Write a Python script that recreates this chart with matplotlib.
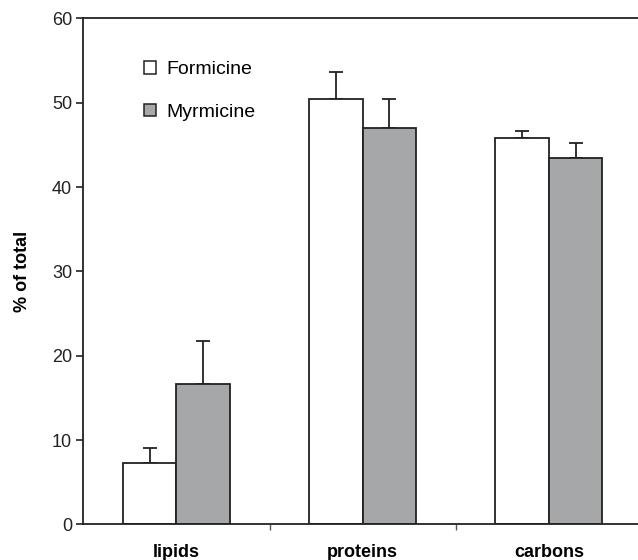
import numpy as np
import matplotlib
matplotlib.use('Agg')
from matplotlib import pyplot as plt
from matplotlib.patches import Patch

plt.rcParams['font.family'] = ['Liberation Sans', 'DejaVu Sans']

categories = ['lipids', 'proteins', 'carbons']
formicine = [7.3, 50.5, 45.8]
formicine_err = [1.8, 3.2, 0.8]
myrmicine = [16.7, 47.0, 43.4]
myrmicine_err = [5.0, 3.5, 1.8]

edge = '#222222'
gray = '#a6a7a9'

fig = plt.figure(figsize=(6.38, 5.60), dpi=100)
# the axes run a little past the right edge of the figure
ax = fig.add_axes([0.1306, 0.0634, 0.8757, 0.9036])

x = np.arange(len(categories)) + 0.5
w = 0.287

ax.bar(x - w / 2, formicine, w, color='white', edgecolor=edge, linewidth=1.3, zorder=2)
ax.bar(x + w / 2, myrmicine, w, color=gray, edgecolor=edge, linewidth=1.3, zorder=2)
ax.errorbar(x - w / 2, formicine, yerr=[np.zeros(3), formicine_err], fmt='none',
            ecolor=edge, elinewidth=1.3, capsize=4.7, capthick=1.3, zorder=1)
ax.errorbar(x + w / 2, myrmicine, yerr=[np.zeros(3), myrmicine_err], fmt='none',
            ecolor=edge, elinewidth=1.3, capsize=4.7, capthick=1.3, zorder=1)

ax.set_xlim(0, 3)
ax.set_ylim(0, 60)
ax.set_yticks([0, 10, 20, 30, 40, 50, 60])
ax.set_xticks(x)
ax.set_xticklabels(categories, fontsize=13, fontweight='bold')
ax.set_xticks([1, 2], minor=True)
ax.tick_params(axis='x', which='major', length=0, pad=14)
ax.tick_params(axis='x', which='minor', length=4, width=1, color='#555555')
ax.tick_params(axis='y', length=5, width=1.2, labelsize=13, colors=edge, pad=3)
ax.set_ylabel('% of total', fontsize=13, fontweight='bold', labelpad=15)

for s in ax.spines.values():
    s.set_linewidth(1.3)
    s.set_color(edge)

handles = [Patch(facecolor='white', edgecolor=edge, linewidth=1.1),
           Patch(facecolor=gray, edgecolor=edge, linewidth=1.1)]
ax.legend(handles, ['Formicine', 'Myrmicine'], loc='upper left',
          bbox_to_anchor=(0.078, 0.95), frameon=False, fontsize=14,
          handlelength=0.62, handleheight=0.62, handletextpad=0.5,
          labelspacing=1.3)

fig.savefig('out.png', dpi=100)
